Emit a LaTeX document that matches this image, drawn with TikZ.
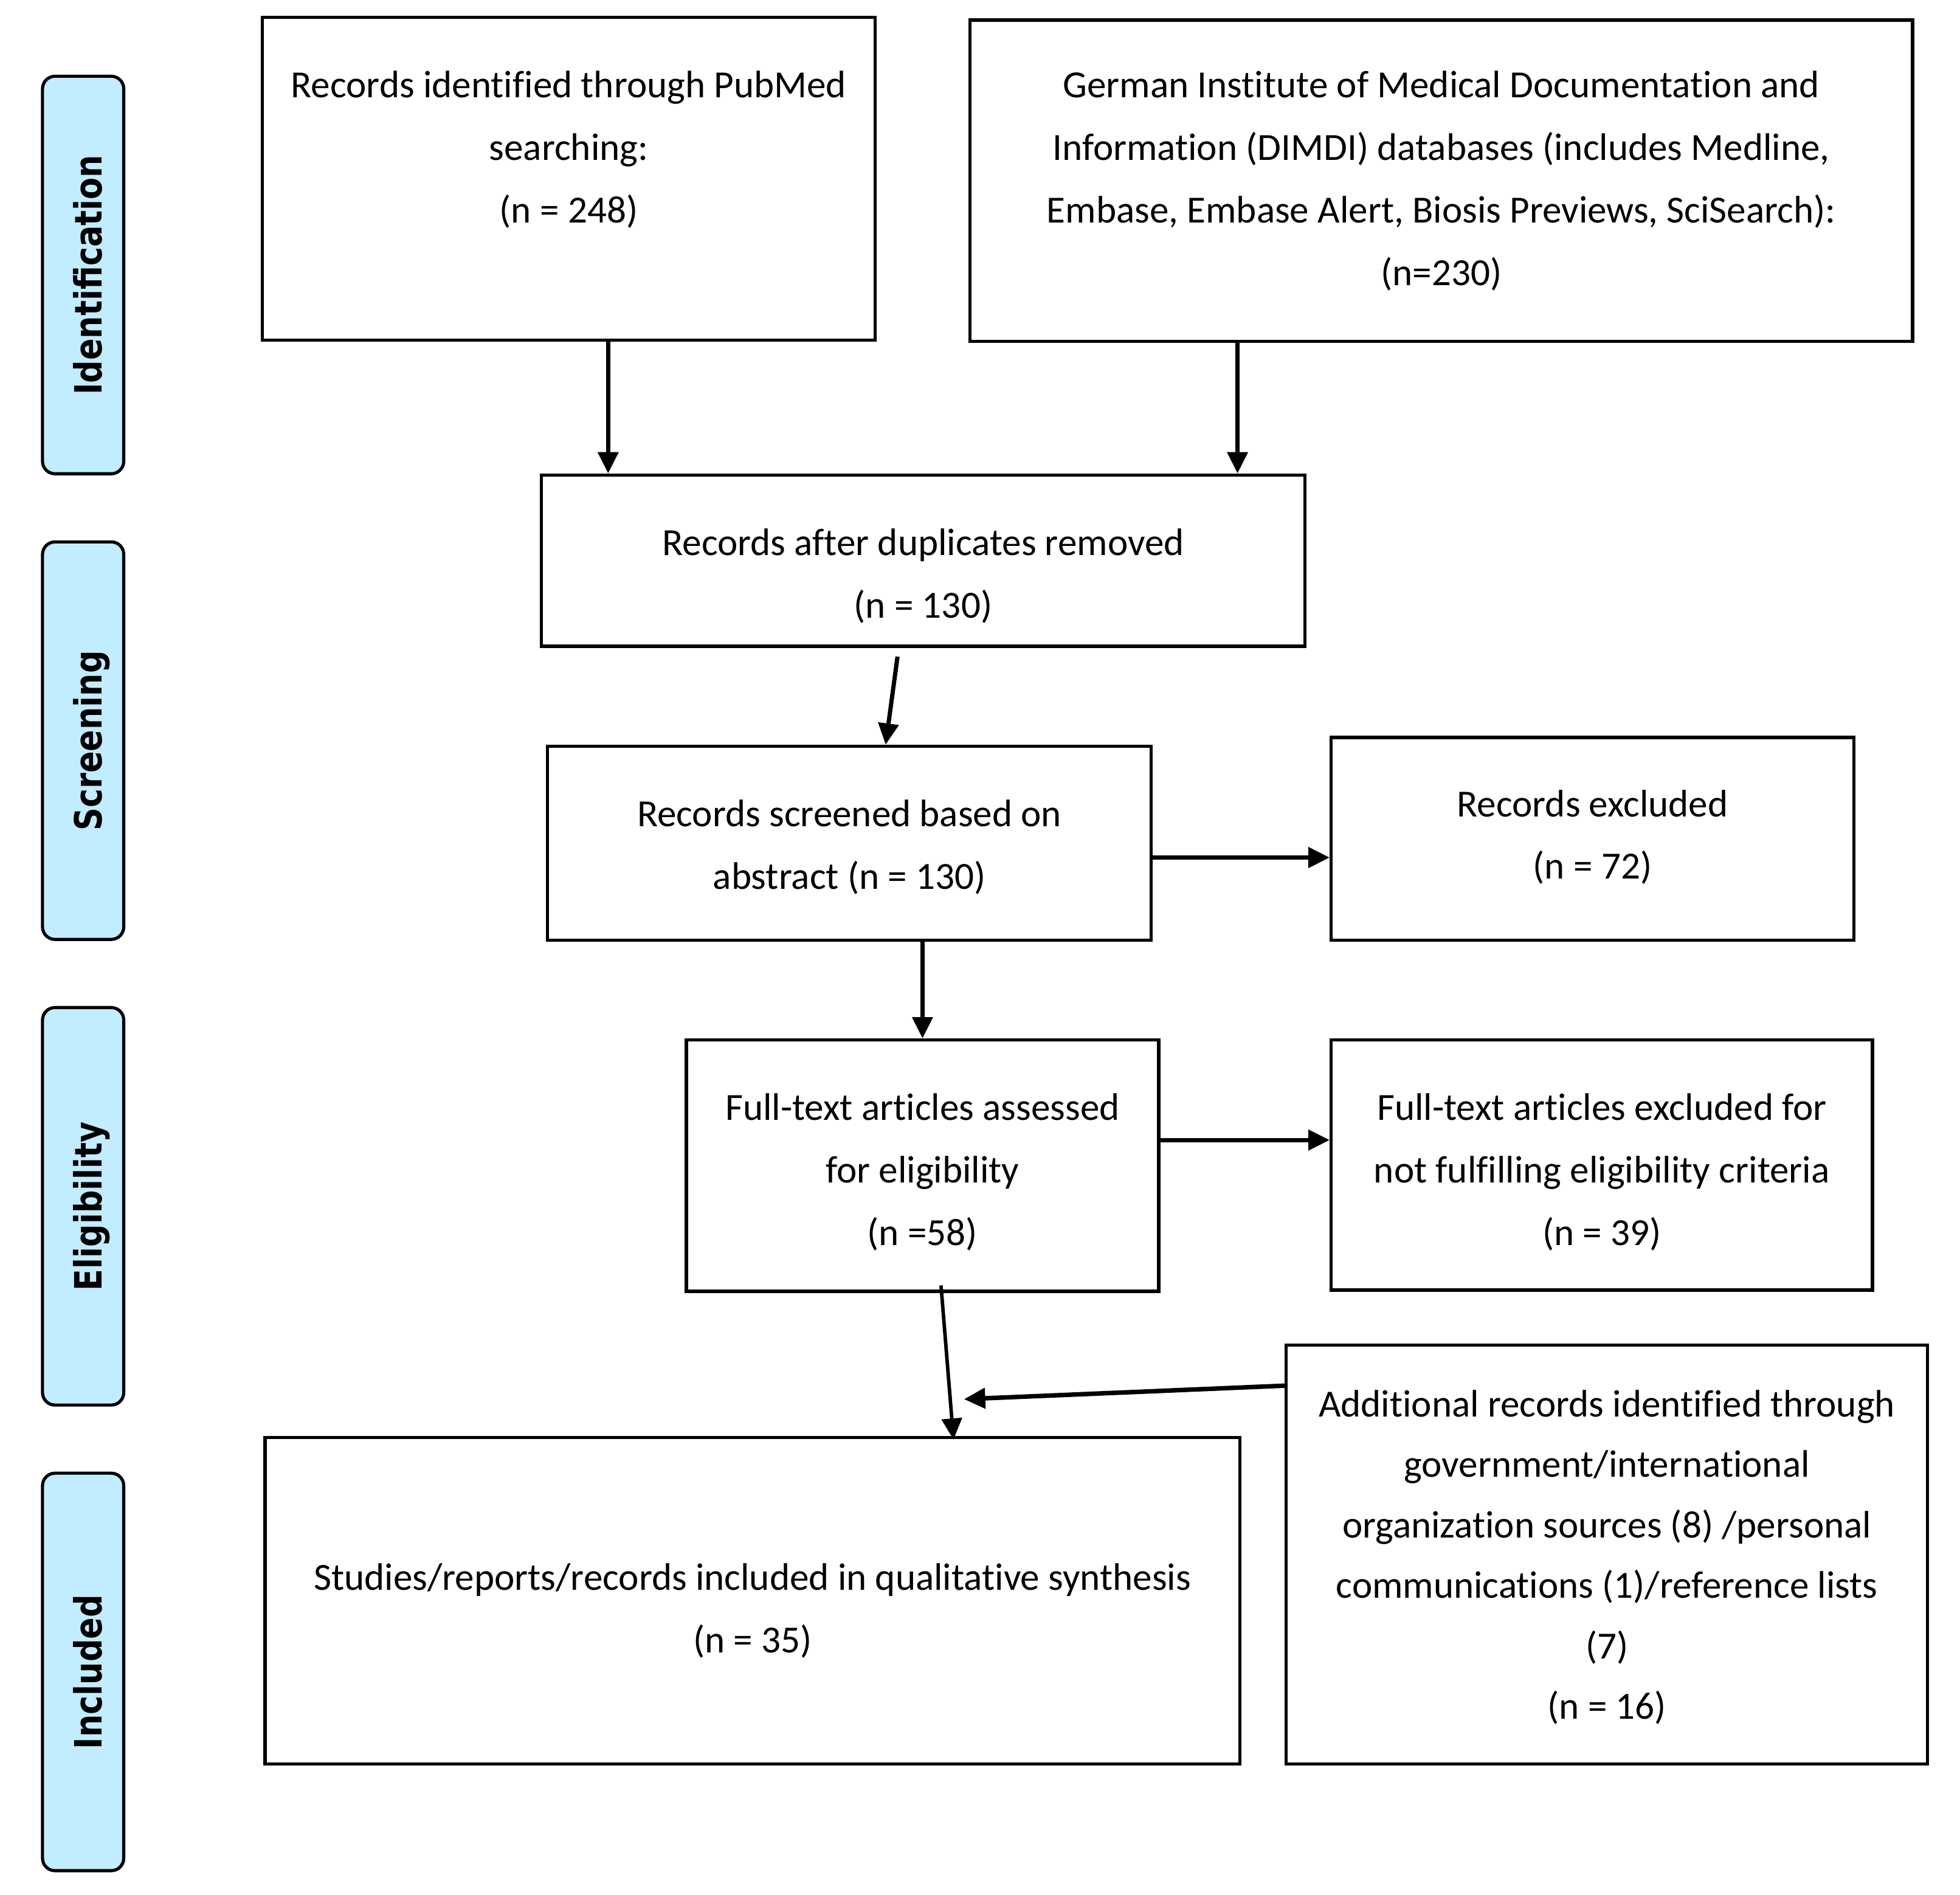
\documentclass[tikz,border=0pt]{standalone}
\usepackage{fontspec}
\newfontfamily\carlito{Carlito}[Ligatures={NoCommon,NoContextual,NoRare}]
\newfontfamily\dejab{DejaVu Sans}
\usetikzlibrary{arrows.meta}
\definecolor{phaseblue}{HTML}{C2ECFF}
\newcommand\fl{\rule{0pt}{28pt}}
\begin{document}
\begin{tikzpicture}[x=1pt,y=-1pt,
  box/.style={draw, line width=2.6pt, inner sep=0pt},
  phase/.style={draw, line width=2.5pt, fill=phaseblue, rounded corners=10pt,
    minimum width=65pt, minimum height=318pt, inner sep=0pt},
  phtext/.style={rotate=90, anchor=base, inner sep=0pt,
    font=\fontsize{25.5pt}{30pt}\dejab\bfseries},
  txt/.style={align=center, inner sep=0pt, anchor=north,
    font=\fontsize{30.7pt}{50pt}\carlito},
  arr/.style={line width=3.4pt, -{Triangle[length=17pt,width=16pt]}}
]
\useasboundingbox (0,0) rectangle (1568,1515.5);

% phase labels
\node[phase] (pid) at (66.5,220) {};
\node[phase] (psc) at (66.5,592.5) {};
\node[phase] (pel) at (66.5,965) {};
\node[phase] (pin) at (66.5,1337.5) {};
\node[phtext] (tid) at (81.6,220) {\scalebox{1}[1.18]{Identification}};
\node[phtext] (tsc) at (81.6,592.5) {\scalebox{1}[1.18]{Screening}};
\node[phtext] (tel) at (81.6,965) {\scalebox{1}[1.18]{Eligibility}};
\node[phtext] (tin) at (81.6,1337.5) {\scalebox{1}[1.18]{Included}};

% boxes
\node[box, minimum width=490pt, minimum height=258pt] (pub) at (455,143) {};
\node[box, minimum width=754pt, minimum height=257pt] (dim) at (1153,144.5) {};
\node[box, minimum width=611pt, minimum height=137pt] (dup) at (738.5,448.5) {};
\node[box, minimum width=483pt, minimum height=155pt] (scr) at (679.5,674.5) {};
\node[box, minimum width=418pt, minimum height=162pt] (exc) at (1274,671) {};
\node[box, minimum width=378pt, minimum height=201pt] (ft) at (738,932.5) {};
\node[box, minimum width=433pt, minimum height=200pt] (ftx) at (1281.5,932) {};
\node[box, minimum width=513pt, minimum height=335pt] (add) at (1285.5,1243.5) {};
\node[box, minimum width=780pt, minimum height=261pt] (stu) at (602,1280.5) {};

% texts
\node[txt] (tpub) at (455,50) {\fl Records identified through PubMed\\searching:\\(n = 248)};
\node[txt] (tdim) at (1153,50) {\fl German Institute of Medical Documentation and\\Information (DIMDI) databases (includes Medline,\\Embase, Embase Alert, Biosis Previews, SciSearch):\\(n=230)};
\node[txt] (tdup) at (738.5,416) {\fl Records after duplicates removed\\(n = 130)};
\node[txt] (tscr) at (679.5,633) {\fl Records screened based on\\abstract (n = 130)};
\node[txt] (texc) at (1274,625) {\fl Records excluded\\(n = 72)};
\node[txt] (tft) at (738,868) {\fl Full-text articles assessed\\for eligibility\\(n =58)};
\node[txt] (tftx) at (1281.5,868) {\fl Full-text articles excluded for\\not fulfilling eligibility criteria\\(n = 39)};
\node[txt, font=\fontsize{30.7pt}{48.4pt}\carlito] (tadd) at (1285.5,1105) {\fl Additional records identified through\\government/international\\organization sources (8) /personal\\communications (1)/reference lists\\(7)\\(n = 16)};
\node[txt] (tstu) at (602,1244) {\fl Studies/reports/records included in qualitative synthesis\\(n = 35)};

% connectors
\coordinate (p1) at ([xshift=31.5pt]pub.south);
\draw[arr] (p1) -- (p1 |- dup.north);
\coordinate (d1) at ([xshift=-163pt]dim.south);
\draw[arr] (d1) -- (d1 |- dup.north);
\draw[arr] ([xshift=-20.5pt,yshift=-7pt]dup.south) -- ([xshift=29pt]scr.north);
\draw[arr] (scr.south -| ft.north) -- (ft.north);
\coordinate (s1) at ([yshift=-11.5pt]scr.east);
\draw[arr] (s1) -- (s1 -| exc.west);
\coordinate (f1) at ([yshift=20.5pt]ft.east);
\draw[arr] (f1) -- (f1 -| ftx.west);
\draw[arr, line width=2.8pt] ([xshift=14.8pt,yshift=6pt]ft.south) -- ([xshift=160.8pt,yshift=-3pt]stu.north);
\coordinate (join) at (771.2,1119.3);
\draw[arr, line width=3.6pt] ([yshift=135pt]add.west) -- (join);
\end{tikzpicture}
\end{document}
